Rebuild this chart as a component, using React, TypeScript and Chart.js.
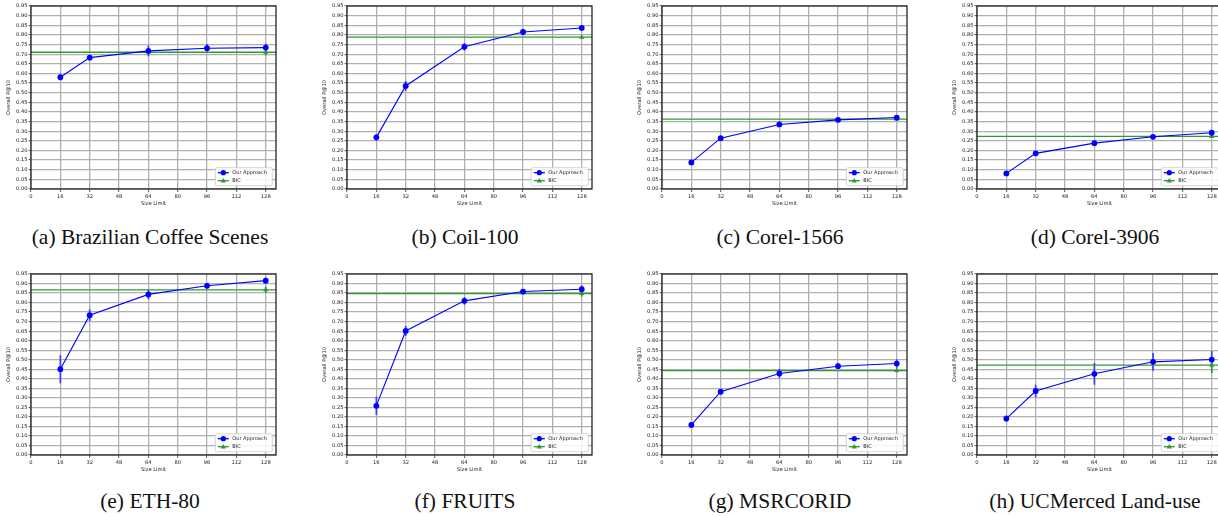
import React, { useEffect, useRef } from 'react';
import { Chart, registerables } from 'chart.js';

Chart.register(...registerables);

// ---------- data ----------
const sizeLimits = [16, 32, 64, 96, 128];
const xTickValues = [0, 16, 32, 48, 64, 80, 96, 112, 128];
const yTickValues = [0, 0.05, 0.1, 0.15, 0.2, 0.25, 0.3, 0.35, 0.4, 0.45, 0.5, 0.55, 0.6, 0.65, 0.7, 0.75, 0.8, 0.85, 0.9, 0.95];
const xAxisMax = 133.6;
const yAxisMax = 0.95;

const seriesLabels = ['Our Approach', 'BIC'];
const xAxisTitle = 'Size Limit';
const yAxisTitle = 'Overall P@10';

const brazilianMean = [0.58, 0.682, 0.717, 0.731, 0.734];
const brazilianErr = [0.015, 0.006, 0.028, 0.022, 0.02];
const brazilianBic = 0.71;
const brazilianBicErr = 0.017;

const coilMean = [0.268, 0.535, 0.738, 0.815, 0.836];
const coilErr = [0.017, 0.026, 0.02, 0.016, 0.01];
const coilBic = 0.788;
const coilBicErr = 0.008;

const corel1566Mean = [0.138, 0.264, 0.335, 0.359, 0.371];
const corel1566Err = [0.01, 0.008, 0.008, 0.006, 0.01];
const corel1566Bic = 0.363;
const corel1566BicErr = 0.01;

const corel3906Mean = [0.081, 0.185, 0.238, 0.271, 0.292];
const corel3906Err = [0.008, 0.006, 0.006, 0.005, 0.006];
const corel3906Bic = 0.273;
const corel3906BicErr = 0.008;

const eth80Mean = [0.45, 0.734, 0.843, 0.888, 0.915];
const eth80Err = [0.074, 0.031, 0.025, 0.014, 0.016];
const eth80Bic = 0.867;
const eth80BicErr = 0.016;

const fruitsMean = [0.258, 0.651, 0.809, 0.858, 0.87];
const fruitsErr = [0.048, 0.026, 0.02, 0.012, 0.02];
const fruitsBic = 0.847;
const fruitsBicErr = 0.015;

const msrcoridMean = [0.158, 0.332, 0.428, 0.466, 0.48];
const msrcoridErr = [0.012, 0.01, 0.024, 0.015, 0.022];
const msrcoridBic = 0.443;
const msrcoridBicErr = 0.01;

const ucmercedMean = [0.191, 0.336, 0.426, 0.489, 0.501];
const ucmercedErr = [0.017, 0.033, 0.057, 0.047, 0.045];
const ucmercedBic = 0.472;
const ucmercedBicErr = 0.042;

const captions = [
  '(a) Brazilian Coffee Scenes',
  '(b) Coil-100',
  '(c) Corel-1566',
  '(d) Corel-3906',
  '(e) ETH-80',
  '(f) FRUITS',
  '(g) MSRCORID',
  '(h) UCMerced Land-use',
];

// ---------- layout ----------
const BLUE = '#0000ff';
const BLUE_ERR = 'rgba(30,30,255,0.8)';
const GREEN = '#2f9a2f';
const FONT = "'DejaVu Sans', sans-serif";

const colCanvasLeft = [0, 316, 631, 946];
const captionCenters = [150, 465, 780, 1095];
const rows = [
  { plotTop: 6, plotH: 183, captionY: 237 },
  { plotTop: 274, plotH: 181, captionY: 501 },
];
const Y_AXIS_W = 31;
const X_AXIS_H = 26;
const PAD_TOP = 6;
const PAD_RIGHT = 8;
const PLOT_W = 245;

type PanelCfg = {
  mean: number[];
  err: number[];
  bic: number;
  bicErr: number;
  caption: string;
  col: number;
  row: number;
};

const panels: PanelCfg[] = [
  { mean: brazilianMean, err: brazilianErr, bic: brazilianBic, bicErr: brazilianBicErr, caption: captions[0], col: 0, row: 0 },
  { mean: coilMean, err: coilErr, bic: coilBic, bicErr: coilBicErr, caption: captions[1], col: 1, row: 0 },
  { mean: corel1566Mean, err: corel1566Err, bic: corel1566Bic, bicErr: corel1566BicErr, caption: captions[2], col: 2, row: 0 },
  { mean: corel3906Mean, err: corel3906Err, bic: corel3906Bic, bicErr: corel3906BicErr, caption: captions[3], col: 3, row: 0 },
  { mean: eth80Mean, err: eth80Err, bic: eth80Bic, bicErr: eth80BicErr, caption: captions[4], col: 0, row: 1 },
  { mean: fruitsMean, err: fruitsErr, bic: fruitsBic, bicErr: fruitsBicErr, caption: captions[5], col: 1, row: 1 },
  { mean: msrcoridMean, err: msrcoridErr, bic: msrcoridBic, bicErr: msrcoridBicErr, caption: captions[6], col: 2, row: 1 },
  { mean: ucmercedMean, err: ucmercedErr, bic: ucmercedBic, bicErr: ucmercedBicErr, caption: captions[7], col: 3, row: 1 },
];

function Panel({ cfg }: { cfg: PanelCfg }) {
  const ref = useRef<HTMLCanvasElement>(null);
  const row = rows[cfg.row];
  const W = Y_AXIS_W + PLOT_W + PAD_RIGHT;
  const H = PAD_TOP + row.plotH + X_AXIS_H;
  const left = colCanvasLeft[cfg.col];
  const top = row.plotTop - PAD_TOP;

  useEffect(() => {
    const canvas = ref.current;
    if (!canvas) return;

    const errorBars = {
      id: 'errorBars',
      beforeDatasetsDraw(chart: any) {
        const { ctx, scales } = chart;
        const xs = scales.x;
        const ys = scales.y;
        ctx.save();
        ctx.lineWidth = 1.7;
        ctx.strokeStyle = BLUE_ERR;
        sizeLimits.forEach((s, i) => {
          const px = xs.getPixelForValue(s);
          ctx.beginPath();
          ctx.moveTo(px, ys.getPixelForValue(cfg.mean[i] - cfg.err[i]));
          ctx.lineTo(px, ys.getPixelForValue(cfg.mean[i] + cfg.err[i]));
          ctx.stroke();
        });
        const bx = xs.getPixelForValue(sizeLimits[sizeLimits.length - 1]);
        ctx.strokeStyle = GREEN;
        ctx.beginPath();
        ctx.moveTo(bx, ys.getPixelForValue(cfg.bic - cfg.bicErr));
        ctx.lineTo(bx, ys.getPixelForValue(cfg.bic + cfg.bicErr));
        ctx.stroke();
        ctx.restore();
      },
    };

    const frameAndLegend = {
      id: 'frameAndLegend',
      afterDraw(chart: any) {
        const { ctx, chartArea } = chart;
        ctx.save();
        // legend box
        const bw = 57;
        const bh = 18;
        const bx = chartArea.right - 3.7 - bw;
        const by = chartArea.bottom - 3.3 - bh;
        ctx.fillStyle = 'rgba(255,255,255,0.85)';
        ctx.strokeStyle = '#cccccc';
        ctx.lineWidth = 0.8;
        ctx.beginPath();
        if ((ctx as any).roundRect) (ctx as any).roundRect(bx, by, bw, bh, 1.5);
        else ctx.rect(bx, by, bw, bh);
        ctx.fill();
        ctx.stroke();
        const rowsY = [by + 5, by + 13];
        const colors = [BLUE, GREEN];
        rowsY.forEach((ry, i) => {
          ctx.strokeStyle = colors[i];
          ctx.lineWidth = 1.3;
          ctx.beginPath();
          ctx.moveTo(bx + 2.5, ry);
          ctx.lineTo(bx + 13.5, ry);
          ctx.stroke();
          ctx.fillStyle = colors[i];
          ctx.beginPath();
          if (i === 0) {
            ctx.arc(bx + 8, ry, 2.6, 0, Math.PI * 2);
          } else {
            ctx.moveTo(bx + 8, ry - 2.8);
            ctx.lineTo(bx + 10.6, ry + 1.8);
            ctx.lineTo(bx + 5.4, ry + 1.8);
            ctx.closePath();
          }
          ctx.fill();
          ctx.fillStyle = '#222';
          ctx.font = `5px ${FONT}`;
          ctx.textAlign = 'left';
          ctx.textBaseline = 'middle';
          ctx.fillText(seriesLabels[i], bx + 17, ry + 0.3);
        });
        // frame
        ctx.strokeStyle = '#262626';
        ctx.lineWidth = 1.3;
        ctx.strokeRect(chartArea.left, chartArea.top, chartArea.right - chartArea.left, chartArea.bottom - chartArea.top);
        ctx.restore();
      },
    };

    const tickFont = { family: FONT, size: 5.2 };
    const gridCommon = {
      display: true,
      color: '#b0b0b0',
      lineWidth: 1.3,
      drawTicks: true,
      tickColor: '#333333',
      tickWidth: 0.8,
    };

    const chart = new Chart(canvas, {
      type: 'line',
      data: {
        datasets: [
          {
            label: seriesLabels[0],
            data: sizeLimits.map((s, i) => ({ x: s, y: cfg.mean[i] })),
            borderColor: BLUE,
            backgroundColor: BLUE,
            borderWidth: 1.1,
            pointRadius: 2.9,
            pointBorderWidth: 0,
            pointStyle: 'circle',
            tension: 0,
          },
          {
            label: seriesLabels[1],
            data: [{ x: sizeLimits[sizeLimits.length - 1], y: cfg.bic }],
            showLine: false,
            borderColor: GREEN,
            backgroundColor: GREEN,
            pointStyle: 'triangle',
            pointRadius: 3,
            pointBorderWidth: 0,
          },
          {
            label: seriesLabels[1] + ' level',
            data: [
              { x: 0, y: cfg.bic },
              { x: xAxisMax, y: cfg.bic },
            ],
            borderColor: GREEN,
            borderWidth: 1.3,
            pointRadius: 0,
          },
        ],
      },
      options: {
        animation: false,
        responsive: false,
        devicePixelRatio: window.devicePixelRatio || 1,
        events: [],
        layout: { padding: { top: PAD_TOP, right: PAD_RIGHT, left: 0, bottom: 0 } },
        plugins: { legend: { display: false }, tooltip: { enabled: false } },
        scales: {
          x: {
            type: 'linear',
            min: 0,
            max: xAxisMax,
            afterFit: (scale: any) => {
              scale.height = X_AXIS_H;
            },
            afterBuildTicks: (scale: any) => {
              scale.ticks = xTickValues.map((v) => ({ value: v }));
            },
            ticks: {
              font: tickFont,
              color: '#222222',
              padding: 1.5,
              maxRotation: 0,
              autoSkip: false,
              callback: (v: any) => String(v),
            },
            grid: { ...gridCommon, tickLength: 3 },
            border: { display: false },
            title: {
              display: true,
              text: xAxisTitle,
              font: tickFont,
              color: '#222222',
              padding: { top: 0, bottom: 8.3 },
            },
          },
          y: {
            type: 'linear',
            min: 0,
            max: yAxisMax,
            afterFit: (scale: any) => {
              scale.width = Y_AXIS_W;
            },
            afterBuildTicks: (scale: any) => {
              scale.ticks = yTickValues.map((v) => ({ value: v }));
            },
            ticks: {
              font: tickFont,
              color: '#222222',
              padding: 1,
              autoSkip: false,
              callback: (v: any) => Number(v).toFixed(2),
            },
            grid: { ...gridCommon, tickLength: 2.5 },
            border: { display: false },
            title: {
              display: true,
              text: yAxisTitle,
              font: tickFont,
              color: '#222222',
              padding: { top: 6, bottom: 0 },
            },
          },
        },
      },
      plugins: [errorBars, frameAndLegend],
    } as any);

    return () => chart.destroy();
  }, []);

  return (
    <>
      <canvas
        ref={ref}
        width={W}
        height={H}
        style={{ position: 'absolute', left, top, width: W, height: H }}
      />
      <div
        style={{
          position: 'absolute',
          left: captionCenters[cfg.col] - 160,
          top: row.captionY - 14,
          width: 320,
          height: 28,
          lineHeight: '28px',
          textAlign: 'center',
          fontFamily: "'Liberation Serif', 'Times New Roman', serif",
          fontSize: 21.5,
          color: '#111',
          whiteSpace: 'nowrap',
        }}
      >
        {cfg.caption}
      </div>
    </>
  );
}

export default function App() {
  return (
    <div
      style={{
        position: 'absolute',
        left: 0,
        top: 0,
        width: 1218,
        height: 517,
        background: '#ffffff',
        overflow: 'hidden',
      }}
    >
      {panels.map((p, i) => (
        <Panel key={i} cfg={p} />
      ))}
    </div>
  );
}
